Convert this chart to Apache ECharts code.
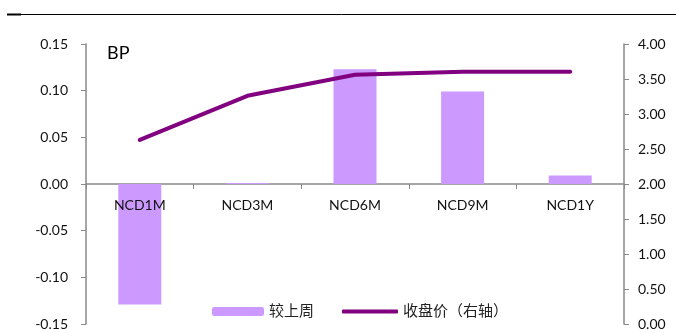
<!DOCTYPE html>
<html><head><meta charset="utf-8">
<script src="https://cdn.jsdelivr.net/npm/echarts@6/dist/echarts.min.js"></script>
<style>html,body{margin:0;padding:0;background:#fff}#c{width:676px;height:333px}</style>
</head><body><div id="c"></div>
<script>
const categories = ['NCD1M','NCD3M','NCD6M','NCD9M','NCD1Y'];
const changeBP = [-0.129, 0.001, 0.123, 0.099, 0.009];
const closePrice = [2.63, 3.26, 3.56, 3.605, 3.605];
const barName = '较上周';
const lineName = '收盘价（右轴）';

const chart = echarts.init(document.getElementById('c'));
const fontFam = 'Lato, "Noto Sans CJK SC", sans-serif';
const gridTop = 44, gridBottom = 9, H = 333;
// offset of label axis so that labels sit just under the zero line of the left axis
const plotH = H - gridTop - gridBottom;
const zeroOffset = -plotH * (0 - (-0.15)) / 0.30;
chart.setOption({
  animation: false,
  textStyle: {fontFamily: fontFam},
  grid: {left: 86, right: 52, top: gridTop, bottom: gridBottom, containLabel: false, outerBoundsMode: 'none'},
  graphic: [
    {type: 'line', shape: {x1: 7, y1: 14.5, x2: 676, y2: 14.5}, style: {stroke: '#000', lineWidth: 1}},
    {type: 'rect', shape: {x: 7, y: 13.5, width: 14, height: 2}, style: {fill: '#000'}},
    {type: 'text', left: 107, top: 44, style: {text: 'BP', font: '18px ' + fontFam, fill: '#000'}}
  ],
  legend: [
    {data: [barName], left: 207, top: 299, itemWidth: 52, itemHeight: 9, itemGap: 6,
     textStyle: {fontSize: 15, color: '#222', fontFamily: fontFam}},
    {data: [{name: lineName, icon: 'roundRect'}], left: 337, top: 299, itemWidth: 56, itemHeight: 4,
     textStyle: {fontSize: 15, color: '#222', fontFamily: fontFam}}
  ],
  xAxis: [{
    type: 'category', data: categories,
    axisLine: {onZero: true, onZeroAxisIndex: 0, lineStyle: {color: '#898989', width: 1.5}},
    axisTick: {show: true, length: 5, lineStyle: {color: '#898989'}},
    axisLabel: {show: false},
    splitLine: {show: false}
  }, {
    type: 'category', data: categories, position: 'bottom', offset: zeroOffset, z: 10, zlevel: 1,
    axisLine: {show: false, onZero: false}, axisTick: {show: false},
    axisLabel: {color: '#111', fontSize: 14, margin: 14, fontFamily: fontFam},
    splitLine: {show: false}
  }],
  yAxis: [
    {type: 'value', min: -0.15, max: 0.15, interval: 0.05,
     axisLine: {show: true, lineStyle: {color: '#898989', width: 1.5}},
     axisTick: {show: true, length: 5, lineStyle: {color: '#898989'}},
     axisLabel: {color: '#111', fontSize: 14, margin: 18, formatter: v => v.toFixed(2), fontFamily: fontFam},
     splitLine: {show: false}},
    {type: 'value', min: 0, max: 4, interval: 0.5, position: 'right',
     axisLine: {show: true, lineStyle: {color: '#898989', width: 1.5}},
     axisTick: {show: true, length: 5, lineStyle: {color: '#898989'}},
     axisLabel: {color: '#111', fontSize: 14, margin: 14, formatter: v => v.toFixed(2), fontFamily: fontFam},
     splitLine: {show: false}}
  ],
  series: [
    {name: barName, type: 'bar', xAxisIndex: 0, yAxisIndex: 0, data: changeBP, barWidth: 43,
     itemStyle: {color: '#CC99FF'}},
    {name: lineName, type: 'line', xAxisIndex: 0, yAxisIndex: 1, data: closePrice, symbol: 'none',
     lineStyle: {color: '#800080', width: 4, cap: 'round'}, itemStyle: {color: '#800080'}}
  ]
});
</script></body></html>
